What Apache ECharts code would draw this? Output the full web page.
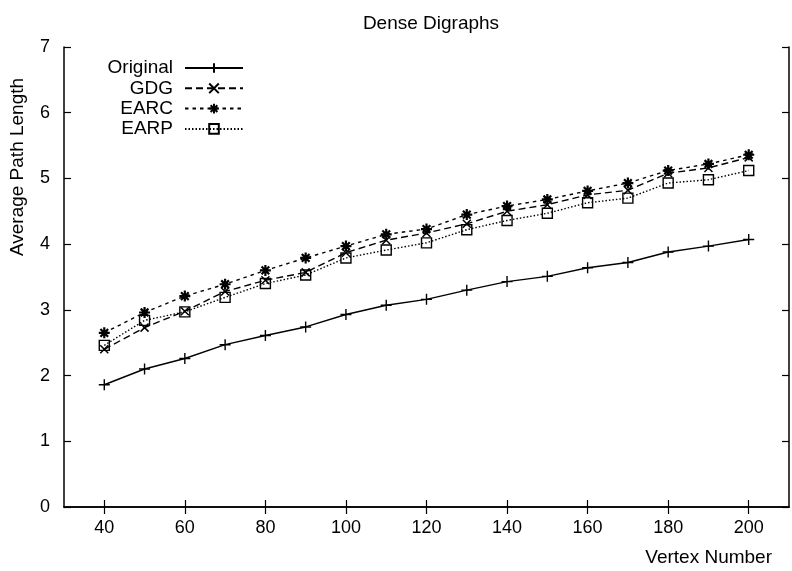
<!DOCTYPE html>
<html>
<head>
<meta charset="utf-8">
<script src="https://cdn.jsdelivr.net/npm/echarts@6/dist/echarts.min.js"></script>
<style>
  html, body { margin: 0; padding: 0; background: #fff; }
  #chart { width: 792px; height: 571px; }
</style>
</head>
<body>
<div id="chart"></div>
<script>
// Vertex counts on the x axis
const vertexNumbers = [40, 50, 60, 70, 80, 90, 100, 110, 120, 130, 140, 150, 160, 170, 180, 190, 200];

// Average path length for each algorithm
const originalLen = [1.86, 2.10, 2.26, 2.47, 2.61, 2.74, 2.93, 3.07, 3.16, 3.30, 3.43, 3.51, 3.64, 3.72, 3.88, 3.97, 4.07];
const gdgLen      = [2.40, 2.73, 2.98, 3.28, 3.45, 3.57, 3.87, 4.06, 4.17, 4.31, 4.50, 4.60, 4.75, 4.82, 5.08, 5.16, 5.32];
const earcLen     = [2.65, 2.96, 3.21, 3.39, 3.60, 3.79, 3.97, 4.15, 4.23, 4.45, 4.58, 4.68, 4.81, 4.93, 5.12, 5.22, 5.36];
const earpLen     = [2.46, 2.84, 2.97, 3.19, 3.40, 3.53, 3.79, 3.91, 4.02, 4.22, 4.36, 4.47, 4.63, 4.70, 4.93, 4.98, 5.12];

// Tick labels
const xTickValues = [40, 60, 80, 100, 120, 140, 160, 180, 200];
const yTickValues = [0, 1, 2, 3, 4, 5, 6, 7];

const FONT = '"Liberation Sans", Arial, Helvetica, sans-serif';

// Point markers drawn as stroked outlines
const SYM_PLUS   = 'path://M0,5L10,5M5,0L5,10';
const SYM_CROSS  = 'path://M0,0L10,10M10,0L0,10';
const SYM_STAR   = 'path://M0,5L10,5M5,0L5,10M1.5,1.5L8.5,8.5M8.5,1.5L1.5,8.5';
const SYM_SQUARE = 'path://M0,0L10,0L10,10L0,10Z';

function pairs(vals) {
  return vertexNumbers.map((x, i) => [x, vals[i]]);
}

function makeSeries(name, vals, symbol, size, lineType, bw) {
  return {
    name: name,
    type: 'line',
    data: pairs(vals),
    symbol: symbol,
    symbolSize: size,
    showSymbol: true,
    showAllSymbol: true,
    xAxisIndex: 0,
    yAxisIndex: 0,
    lineStyle: { color: '#000', width: 1.4, type: lineType },
    itemStyle: { color: 'rgba(0,0,0,0)', borderColor: '#000', borderWidth: bw },
    emphasis: { disabled: true },
    animation: false,
    z: 3
  };
}

const axisLineStyle = { show: true, lineStyle: { color: '#000', width: 1.5 } };

const chart = echarts.init(document.getElementById('chart'), null, { renderer: 'canvas' });
chart.setOption({
  backgroundColor: '#fff',
  animation: false,
  title: {
    text: 'Dense Digraphs',
    left: 426,
    top: 9,
    textAlign: 'center',
    textStyle: { fontFamily: FONT, fontSize: 19, fontWeight: 'normal', color: '#000' }
  },
  grid: { left: 64, right: 3, top: 47, bottom: 64, containLabel: false },
  legend: {
    orient: 'vertical',
    left: 93,
    top: 53,
    align: 'right',
    itemWidth: 58,
    itemHeight: 12,
    itemGap: 0.3,
    selectedMode: false,
    textStyle: {
      fontFamily: FONT, fontSize: 19, color: '#000',
      width: 75, align: 'right', lineHeight: 20, padding: [0, 7, 0, 0]
    },
    data: ['Original', 'GDG', 'EARC', 'EARP']
  },
  xAxis: [
    {
      type: 'value', min: 30, max: 210, position: 'bottom',
      axisLine: axisLineStyle,
      axisTick: { show: true, inside: true, length: 7, customValues: xTickValues, lineStyle: { color: '#000', width: 1.2 } },
      axisLabel: { show: true, margin: 12, customValues: xTickValues, fontFamily: FONT, fontSize: 18, color: '#000' },
      splitLine: { show: false }
    },
    {
      type: 'value', min: 30, max: 210, position: 'top',
      axisLine: axisLineStyle,
      axisTick: { show: true, inside: true, length: 7, customValues: xTickValues, lineStyle: { color: '#000', width: 1.2 } },
      axisLabel: { show: false },
      splitLine: { show: false }
    }
  ],
  yAxis: [
    {
      type: 'value', min: 0, max: 7, interval: 1, position: 'left',
      axisLine: axisLineStyle,
      axisTick: { show: true, inside: true, length: 7, lineStyle: { color: '#000', width: 1.2 } },
      axisLabel: { show: true, margin: 14, customValues: yTickValues, fontFamily: FONT, fontSize: 18, color: '#000' },
      splitLine: { show: false }
    },
    {
      type: 'value', min: 0, max: 7, interval: 1, position: 'right',
      axisLine: axisLineStyle,
      axisTick: { show: true, inside: true, length: 7, lineStyle: { color: '#000', width: 1.2 } },
      axisLabel: { show: false },
      splitLine: { show: false }
    }
  ],
  graphic: [
    {
      type: 'text',
      x: 18, y: 167, rotation: Math.PI / 2,
      style: {
        text: 'Average Path Length', fill: '#000',
        font: '19px ' + FONT, align: 'center', verticalAlign: 'middle'
      }
    },
    {
      type: 'text',
      x: 772, y: 558,
      style: {
        text: 'Vertex Number', fill: '#000',
        font: '19px ' + FONT, align: 'right', verticalAlign: 'middle'
      }
    }
  ],
  series: [
    makeSeries('Original', originalLen, SYM_PLUS, 11, 'solid', 1.4),
    makeSeries('GDG', gdgLen, SYM_CROSS, 8, [7, 4], 1.5),
    makeSeries('EARC', earcLen, SYM_STAR, 11, [3.5, 4], 2.2),
    makeSeries('EARP', earpLen, SYM_SQUARE, 10, [1.5, 2], 1.4)
  ]
});
</script>
</body>
</html>
